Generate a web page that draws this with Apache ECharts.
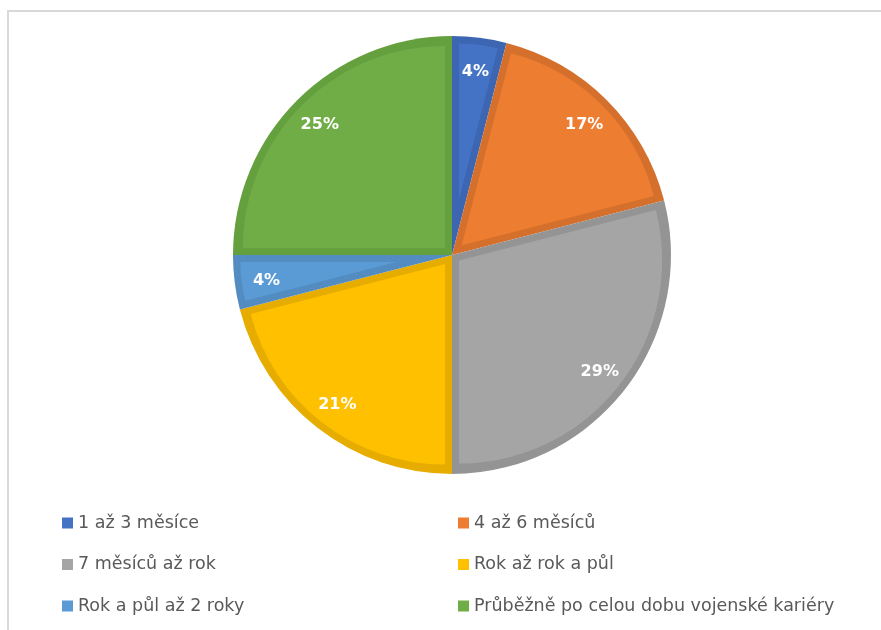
<!DOCTYPE html>
<html>
<head>
<meta charset="utf-8">
<script src="https://cdn.jsdelivr.net/npm/echarts@6/dist/echarts.min.js"></script>
<style>
  html, body { margin: 0; padding: 0; background: #ffffff; }
  #chart { width: 881px; height: 630px; }
</style>
</head>
<body>
<div id="chart"></div>
<script>
// Categories and their shares (percent)
const categories = [
  '1 až 3 měsíce',
  '4 až 6 měsíců',
  '7 měsíců až rok',
  'Rok až rok a půl',
  'Rok a půl až 2 roky',
  'Průběžně po celou dobu vojenské kariéry'
];
const shares = [4, 17, 29, 21, 4, 25];

// Slice fill colours and the darker edge colour of each slice
const fillColors = ['#4472C4', '#ED7D31', '#A5A5A5', '#FFC000', '#5B9BD5', '#70AD47'];
const edgeColors = ['#3D66B2', '#D5702C', '#949494', '#E6AD00', '#528CC0', '#65A03F'];

// Geometry of the pie
const CX = 452, CY = 255, R = 219, EDGE = 7;
const FONT = '"DejaVu Sans", "Open Sans", sans-serif';

const chart = echarts.init(document.getElementById('chart'), null, { renderer: 'canvas' });

const total = shares.reduce((a, b) => a + b, 0);
const transparent = 'rgba(0,0,0,0)';

// Base layer: full slices in the darker edge colour
const baseSeries = {
  type: 'pie',
  name: 'base',
  silent: true,
  z: 1,
  center: [CX, CY],
  radius: [0, R],
  startAngle: 90,
  clockwise: true,
  label: { show: false },
  labelLine: { show: false },
  emphasis: { disabled: true },
  data: categories.map((name, i) => ({
    name, value: shares[i],
    itemStyle: { color: edgeColors[i], borderWidth: 0 }
  }))
};

// Inner layer: each slice inset by a constant edge width, so every slice
// shows its own darker outline. The inset is obtained by shifting the
// slice's apex along its bisector.
const insetSeries = [];
let acc = 0;
shares.forEach((v, k) => {
  const startDeg = acc / total * 360;
  const midDeg = startDeg + v / total * 180;
  acc += v;
  const half = Math.PI * v / total;
  const shift = half < Math.PI / 2 ? EDGE / Math.sin(half) : EDGE;
  const mid = midDeg * Math.PI / 180;
  const cx = CX + shift * Math.sin(mid);
  const cy = CY - shift * Math.cos(mid);
  insetSeries.push({
    type: 'pie',
    name: 'inset' + k,
    silent: true,
    legendHoverLink: false,
    z: 2,
    center: [cx, cy],
    radius: [0, Math.max(0, R - EDGE - shift)],
    startAngle: 90,
    clockwise: true,
    label: { show: false },
    labelLine: { show: false },
    emphasis: { disabled: true },
    data: categories.map((name, i) => ({
      name, value: shares[i],
      itemStyle: { color: i === k ? fillColors[i] : transparent, borderWidth: 0 }
    }))
  });
});

// Label ring: invisible donut whose middle radius places the percentages
// near the outer end of each slice
const labelSeries = {
  type: 'pie',
  name: 'labels',
  silent: true,
  z: 3,
  center: [CX, CY + 2],
  radius: [150, 218],
  startAngle: 90,
  clockwise: true,
  label: {
    show: true,
    position: 'inside',
    formatter: p => p.value + '%',
    color: '#ffffff',
    fontFamily: FONT,
    fontWeight: 'bold',
    fontSize: 16
  },
  labelLine: { show: false },
  emphasis: { disabled: true },
  data: categories.map((name, i) => ({
    name, value: shares[i],
    itemStyle: { color: transparent, borderWidth: 0 }
  }))
};

const legendCommon = {
  orient: 'vertical',
  icon: 'rect',
  itemWidth: 11,
  itemHeight: 11,
  itemGap: 23.5,
  selectedMode: false,
  textStyle: { color: '#595959', fontSize: 17.5, fontFamily: FONT }
};
const legendItem = i => ({ name: categories[i], itemStyle: { color: fillColors[i] } });

chart.setOption({
  animation: false,
  backgroundColor: '#ffffff',
  graphic: [{
    type: 'rect',
    silent: true,
    shape: { x: 8, y: 11, width: 1000, height: 1000 },
    style: { fill: 'none', stroke: '#d9d9d9', lineWidth: 2 }
  }],
  legend: [
    Object.assign({ left: 57, top: 509, data: [0, 2, 4].map(legendItem) }, legendCommon),
    Object.assign({ left: 453, top: 509, data: [1, 3, 5].map(legendItem) }, legendCommon)
  ],
  series: [baseSeries].concat(insetSeries, [labelSeries])
});
</script>
</body>
</html>
